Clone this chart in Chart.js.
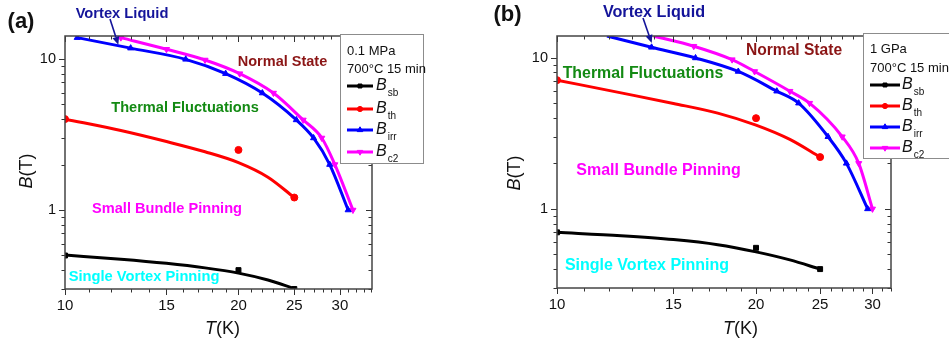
<!DOCTYPE html>
<html><head><meta charset="utf-8">
<script src="https://cdn.jsdelivr.net/npm/chart.js@4.4.0/dist/chart.umd.min.js"></script>
<style>
html,body{margin:0;padding:0;background:#fff;}
#wrap{position:relative;width:949px;height:345px;overflow:hidden;background:#fff;}
canvas{position:absolute;top:0;}
</style></head><body>
<div id="wrap">
<canvas id="ca" width="474" height="345" style="left:0px;width:474px;height:345px"></canvas>
<canvas id="cb" width="475" height="345" style="left:474px;width:475px;height:345px"></canvas>
</div>
<script>
// ---------- DATA: panel (a) 0.1 MPa, 700°C 15 min ----------
const T_sb_a = [10, 20, 25];
const B_sb_a = [0.50, 0.40, 0.30];
const T_sbfit_a = [10, 12.5, 15, 17.5, 20, 22.5, 25];
const B_sbfit_a = [0.503, 0.473, 0.444, 0.414, 0.382, 0.344, 0.302];
const T_th_a = [10, 20, 25];
const B_th_a = [4.0, 2.5, 1.21];
const T_thfit_a = [10, 12.5, 15, 17.5, 20, 22.5, 25];
const B_thfit_a = [4.0, 3.36, 2.84, 2.43, 2.06, 1.65, 1.21];
const T_irr_a = [10.5, 13, 16.2, 19, 22, 25.2, 27, 28.8, 31];
const B_irr_a = [13.85, 11.8, 9.95, 8.0, 5.95, 3.95, 3.0, 2.0, 1.0];
const T_c2_a = [12.5, 15, 17.5, 20.1, 23, 25.9, 27.9, 29.4, 31.6];
const B_c2_a = [13.85, 11.6, 9.85, 8.0, 5.95, 3.95, 3.0, 2.0, 1.0];

// ---------- DATA: panel (b) 1 GPa, 700°C 15 min ----------
const T_sb_b = [10, 20, 25];
const B_sb_b = [0.70, 0.553, 0.40];
const T_sbfit_b = [10, 12.5, 15, 17.5, 20, 22.5, 25];
const B_sbfit_b = [0.70, 0.665, 0.627, 0.58, 0.52, 0.46, 0.40];
const T_th_b = [10, 20, 25];
const B_th_b = [7.1, 3.98, 2.2];
const T_thfit_b = [10, 12.5, 15, 17.5, 20, 22.5, 25];
const B_thfit_b = [7.1, 5.85, 4.98, 4.3, 3.58, 2.88, 2.2];
const T_irr_b = [11.9, 13.9, 16.2, 18.8, 21.5, 23.2, 25.7, 27.4, 29.5];
const B_irr_b = [13.9, 11.7, 9.95, 8.1, 6.0, 5.0, 3.0, 2.0, 1.0];
const T_c2_b = [14.0, 16.1, 18.4, 19.9, 22.5, 24.1, 27.0, 28.6, 30.0];
const B_c2_b = [13.9, 11.9, 9.7, 8.1, 6.0, 5.0, 3.0, 2.0, 1.0];

// ---------- ticks ----------
const Y_TICKS = [0.3, 0.4, 0.5, 0.6, 0.7, 0.8, 0.9, 1, 2, 3, 4, 5, 6, 7, 8, 9, 10];
const Y_LABELS = [1, 10];
const X_TICKS_A = [10,11,12,13,14,15,16,17,18,19,20,21,22,23,24,25,26,27,28,29,30,31,32,33,34];
const X_TICKS_B = [10,11,12,13,14,15,16,17,18,19,20,21,22,23,24,25,26,27,28,29,30,31,32];
const X_LABELS = [10, 15, 20, 25, 30];

const SERIES_NAMES = ['sb', 'th', 'irr', 'c2'];
const COLORS = {sb: '#000000', th: '#ff0000', irr: '#0000ff', c2: '#ff00ff'};

const FONT = '"Liberation Sans", Arial, Helvetica, sans-serif';
const pts = (xs, ys) => xs.map((x, i) => ({x: x, y: ys[i]}));

function fitLine(xs, ys, color) {
  return {data: pts(xs, ys), showLine: true, borderColor: color, backgroundColor: color,
    borderWidth: 3, pointRadius: 0, cubicInterpolationMode: 'monotone', fill: false};
}
function marks(xs, ys, color, style, r, rot) {
  return {data: pts(xs, ys), showLine: false, borderColor: color, backgroundColor: color,
    pointStyle: style, pointRadius: r, pointRotation: rot || 0, borderWidth: 1};
}
function curve(xs, ys, color, style, rot, hideFirst) {
  return {data: pts(xs, ys), showLine: true, borderColor: color, backgroundColor: color,
    borderWidth: 3, cubicInterpolationMode: 'monotone', fill: false,
    pointStyle: style, pointRotation: rot || 0, borderJoinStyle: 'round',
    pointRadius: (c) => (hideFirst && c.dataIndex === 0) ? 0 : 3.5, pointBorderWidth: 1};
}

function mixedText(ctx, parts, x, y) { // centered, parts [{t,f}]
  let w = 0;
  parts.forEach(p => { ctx.font = p.f; w += ctx.measureText(p.t).width; });
  let cx = x - w / 2;
  parts.forEach(p => { ctx.font = p.f; ctx.fillText(p.t, cx, y); cx += ctx.measureText(p.t).width; });
}

function makeDeco(cfg) {
  return {
    id: 'deco',
    afterDatasetsDraw(chart) {
      const ctx = chart.ctx, a = chart.chartArea, xs = chart.scales.x, ys = chart.scales.y;
      ctx.save();
      ctx.strokeStyle = '#333'; ctx.lineWidth = 1;
      ctx.beginPath();
      cfg.xTicks.forEach(v => {
        const p = Math.round(xs.getPixelForValue(v)) + 0.5;
        const L = X_LABELS.includes(v) ? 6 : 3.5;
        ctx.moveTo(p, a.bottom); ctx.lineTo(p, a.bottom + L);
        ctx.moveTo(p, a.top); ctx.lineTo(p, a.top + L);
      });
      Y_TICKS.forEach(v => {
        const p = Math.round(ys.getPixelForValue(v)) + 0.5;
        const L = Y_LABELS.includes(v) ? 6 : 3.5;
        ctx.moveTo(a.left, p); ctx.lineTo(a.left - L, p);
        ctx.moveTo(a.right, p); ctx.lineTo(a.right - L, p);
      });
      ctx.stroke();
      ctx.lineWidth = 1.5; ctx.strokeStyle = '#444';
      ctx.strokeRect(a.left, a.top, a.right - a.left, a.bottom - a.top);
      ctx.restore();
    },
    afterDraw(chart) {
      const ctx = chart.ctx;
      ctx.save();
      ctx.textBaseline = 'middle'; ctx.textAlign = 'left';
      // panel label
      ctx.fillStyle = '#111';
      mixedText(ctx, [{t: cfg.panel, f: 'bold 22px ' + FONT}], cfg.panelPos[0], cfg.panelPos[1]);
      // axis titles
      mixedText(ctx, [{t: 'T', f: 'italic 18px ' + FONT}, {t: '(K)', f: '18px ' + FONT}], cfg.xTitle[0], cfg.xTitle[1]);
      ctx.save();
      ctx.translate(cfg.yTitle[0], cfg.yTitle[1]); ctx.rotate(-Math.PI / 2);
      mixedText(ctx, [{t: 'B', f: 'italic 18px ' + FONT}, {t: '(T)', f: '18px ' + FONT}], 0, 0);
      ctx.restore();
      // annotations
      cfg.notes.forEach(n => {
        ctx.fillStyle = n[1];
        mixedText(ctx, [{t: n[0], f: 'bold ' + n[4] + 'px ' + FONT}], n[2], n[3]);
      });
      // arrow
      const [x1, y1, x2, y2] = cfg.arrow;
      ctx.strokeStyle = '#14149a'; ctx.fillStyle = '#14149a'; ctx.lineWidth = 1.6;
      const ang = Math.atan2(y2 - y1, x2 - x1), hl = 8, hw = 3.5;
      const bx = x2 - hl * Math.cos(ang), by = y2 - hl * Math.sin(ang);
      ctx.beginPath(); ctx.moveTo(x1, y1); ctx.lineTo(bx, by); ctx.stroke();
      ctx.beginPath(); ctx.moveTo(x2, y2);
      ctx.lineTo(bx + hw * Math.sin(ang), by - hw * Math.cos(ang));
      ctx.lineTo(bx - hw * Math.sin(ang), by + hw * Math.cos(ang));
      ctx.closePath(); ctx.fill();
      // legend
      const L = cfg.legend;
      ctx.fillStyle = '#fff'; ctx.fillRect(L.x, L.y, L.w, L.h);
      ctx.strokeStyle = '#8c8c8c'; ctx.lineWidth = 1;
      ctx.strokeRect(L.x + 0.5, L.y + 0.5, L.w, L.h);
      ctx.fillStyle = '#111'; ctx.font = '13px ' + FONT;
      ctx.fillText(cfg.cond[0], L.tx, L.l1);
      ctx.fillText(cfg.cond[1], L.tx, L.l2);
      const styles = {sb: ['rect', 0, 2.8], th: ['circle', 0, 2.6], irr: ['triangle', 0, 3.2], c2: ['triangle', 180, 3.2]};
      SERIES_NAMES.forEach((s, i) => {
        const yy = L.ey[i], c = COLORS[s];
        ctx.strokeStyle = c; ctx.fillStyle = c; ctx.lineWidth = 3;
        ctx.beginPath(); ctx.moveTo(L.lx1, yy); ctx.lineTo(L.lx2, yy); ctx.stroke();
        ctx.lineWidth = 1;
        Chart.helpers.drawPoint(ctx, {pointStyle: styles[s][0], rotation: styles[s][1], radius: styles[s][2], borderWidth: 1},
          (L.lx1 + L.lx2) / 2, yy);
        ctx.fillStyle = '#111';
        ctx.font = 'italic 16px ' + FONT;
        ctx.fillText('B', L.bx, yy);
        const bw = ctx.measureText('B').width;
        ctx.font = '10px ' + FONT;
        ctx.fillText(s, L.bx + bw + 1, yy + 7);
      });
      ctx.restore();
    }
  };
}

function build(id, canvasW, area, xMax, yMax, sets, cfg) {
  const ds = [
    fitLine(sets.sbfit[0], sets.sbfit[1], COLORS.sb),
    marks(sets.sb[0], sets.sb[1], COLORS.sb, 'rect', 3.5),
    fitLine(sets.thfit[0], sets.thfit[1], COLORS.th),
    marks(sets.th[0], sets.th[1], COLORS.th, 'circle', 3.5),
    curve(sets.irr[0], sets.irr[1], COLORS.irr, 'triangle', 0, cfg.hideFirst),
    curve(sets.c2[0], sets.c2[1], COLORS.c2, 'triangle', 180, cfg.hideFirst)
  ];
  return new Chart(document.getElementById(id), {
    type: 'scatter',
    data: {datasets: ds},
    plugins: [makeDeco(cfg)],
    options: {
      responsive: false, animation: false, events: [], devicePixelRatio: 1,
      layout: {padding: {left: 0, top: area.top, right: canvasW - area.right, bottom: 0}},
      plugins: {legend: {display: false}, tooltip: {enabled: false}, title: {display: false}},
      scales: {
        x: {
          type: 'logarithmic', position: 'bottom', min: 10, max: xMax,
          afterBuildTicks: (sc) => { sc.ticks = cfg.xTicks.map(v => ({value: v})); },
          afterFit: (sc) => { sc.height = 345 - area.bottom; },
          ticks: {autoSkip: false, maxRotation: 0, padding: 2, color: '#111',
            font: {family: FONT, size: 15},
            callback: (v) => X_LABELS.includes(Math.round(v)) && Math.abs(v - Math.round(v)) < 1e-6 ? String(Math.round(v)) : ''},
          grid: {display: true, drawOnChartArea: false, drawTicks: true, tickLength: 6, color: 'transparent', tickColor: 'transparent'},
          border: {display: false}
        },
        y: {
          type: 'logarithmic', position: 'left', min: 0.3, max: yMax,
          afterBuildTicks: (sc) => { sc.ticks = Y_TICKS.map(v => ({value: v})); },
          afterFit: (sc) => { sc.width = area.left; },
          ticks: {autoSkip: false, padding: 3, color: '#111',
            font: {family: FONT, size: 14.5},
            callback: (v) => (Math.abs(v - 1) < 1e-9 || Math.abs(v - 10) < 1e-9) ? String(Math.round(v)) : ''},
          grid: {display: true, drawOnChartArea: false, drawTicks: true, tickLength: 6, color: 'transparent', tickColor: 'transparent'},
          border: {display: false}
        }
      }
    }
  });
}

build('ca', 474, {left: 65, right: 372, top: 36, bottom: 289}, 34.1, 14.2, {
  sb: [T_sb_a, B_sb_a], sbfit: [T_sbfit_a, B_sbfit_a], th: [T_th_a, B_th_a], thfit: [T_thfit_a, B_thfit_a],
  irr: [T_irr_a, B_irr_a], c2: [T_c2_a, B_c2_a]
}, {
  panel: '(a)', panelPos: [21, 22], xTitle: [222.5, 329], yTitle: [27, 171], xTicks: X_TICKS_A, hideFirst: false,
  notes: [
    ['Vortex Liquid', '#14149a', 122, 14, 14.7],
    ['Normal State', '#8b1515', 282.5, 61.5, 14.5],
    ['Thermal Fluctuations', '#138a13', 185, 108, 14.6],
    ['Small Bundle Pinning', '#ff00ff', 167, 208.5, 14.6],
    ['Single Vortex Pinning', '#00ffff', 144, 276.5, 14.7]
  ],
  arrow: [110, 19, 118.3, 44.7],
  cond: ['0.1 MPa', '700\u00B0C 15 min'],
  legend: {x: 340, y: 34, w: 83, h: 129, tx: 347, l1: 51, l2: 69, ey: [86, 109, 130, 152], lx1: 347, lx2: 373, bx: 376}
});

build('cb', 475, {left: 83, right: 417, top: 36, bottom: 288}, 32, 13.9, {
  sb: [T_sb_b, B_sb_b], sbfit: [T_sbfit_b, B_sbfit_b], th: [T_th_b, B_th_b], thfit: [T_thfit_b, B_thfit_b],
  irr: [T_irr_b, B_irr_b], c2: [T_c2_b, B_c2_b]
}, {
  panel: '(b)', panelPos: [33.5, 15], xTitle: [266.5, 329], yTitle: [41, 173], xTicks: X_TICKS_B, hideFirst: true,
  notes: [
    ['Vortex Liquid', '#14149a', 180, 12.5, 16.2],
    ['Normal State', '#8b1515', 320, 51, 15.6],
    ['Thermal Fluctuations', '#138a13', 169, 74, 15.9],
    ['Small Bundle Pinning', '#ff00ff', 184.5, 171, 16],
    ['Single Vortex Pinning', '#00ffff', 173, 265.5, 16]
  ],
  arrow: [169, 18, 177.7, 43],
  cond: ['1 GPa', '700\u00B0C 15 min'],
  legend: {x: 389, y: 33, w: 100, h: 125, tx: 396, l1: 49, l2: 68, ey: [85, 106, 127, 148], lx1: 396, lx2: 426, bx: 428}
});
</script>
</body></html>
